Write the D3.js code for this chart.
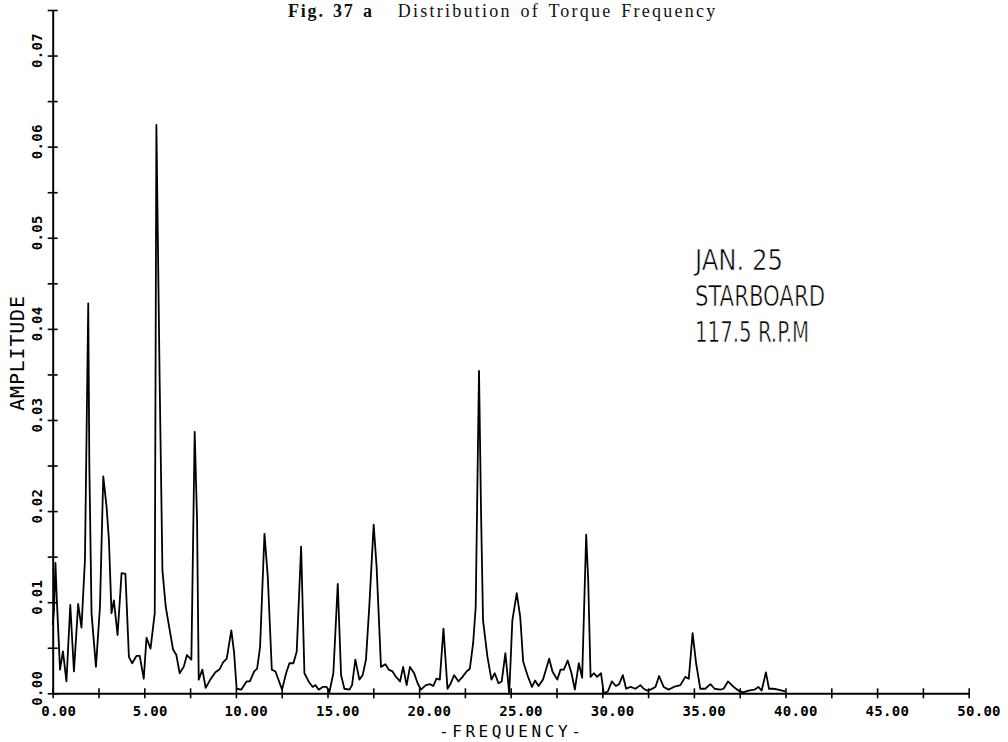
<!DOCTYPE html>
<html>
<head>
<meta charset="utf-8">
<script src="https://cdn.jsdelivr.net/npm/d3@7"></script>
<style>
  html, body { margin: 0; padding: 0; background: #fff; }
  svg { display: block; }
</style>
</head>
<body>
<div id="chart"></div>
<script>
// Torque spectrum (frequency, amplitude)
const frequency = [
  0.00, 0.07, 0.15, 0.22, 0.40, 0.56, 0.75, 0.96, 1.16, 1.39,
  1.57, 1.76, 1.94, 2.00, 2.12, 2.36, 2.58, 2.76, 2.94, 3.07,
  3.21, 3.34, 3.54, 3.76, 3.97, 4.16, 4.34, 4.57, 4.75, 4.97,
  5.12, 5.34, 5.57, 5.66, 5.84, 5.99, 6.17, 6.39, 6.57, 6.75,
  6.93, 7.15, 7.33, 7.57, 7.75, 7.88, 7.97, 8.17, 8.35, 8.60,
  8.88, 9.10, 9.30, 9.50, 9.75, 9.90, 10.04, 10.29, 10.58, 10.76,
  11.00, 11.16, 11.32, 11.56, 11.74, 11.96, 12.16, 12.52, 12.74, 12.92,
  13.14, 13.32, 13.56, 13.74, 13.97, 14.19, 14.34, 14.52, 14.74, 14.95,
  15.10, 15.32, 15.56, 15.74, 15.92, 16.20, 16.34, 16.52, 16.74, 16.92,
  17.10, 17.28, 17.52, 17.68, 17.92, 18.16, 18.34, 18.55, 18.74, 18.96,
  19.13, 19.32, 19.50, 19.73, 19.92, 20.10, 20.37, 20.61, 20.77, 20.95,
  21.13, 21.33, 21.55, 21.73, 21.91, 22.15, 22.37, 22.59, 22.77, 22.95,
  23.09, 23.27, 23.38, 23.49, 23.73, 23.95, 24.13, 24.33, 24.51, 24.71,
  24.92, 25.09, 25.33, 25.52, 25.68, 25.93, 26.16, 26.33, 26.52, 26.76,
  27.10, 27.28, 27.54, 27.72, 27.90, 28.11, 28.32, 28.50, 28.72, 28.90,
  29.12, 29.23, 29.36, 29.54, 29.72, 29.93, 30.08, 30.30, 30.52, 30.74,
  30.92, 31.12, 31.30, 31.54, 31.81, 32.08, 32.26, 32.44, 32.63, 32.90,
  33.10, 33.35, 33.62, 33.90, 34.26, 34.53, 34.72, 34.93, 35.12, 35.35,
  35.62, 35.90, 36.13, 36.44, 36.62, 36.86, 37.17, 37.43, 37.70, 37.98,
  38.30, 38.52, 38.70, 38.93, 39.10, 39.34, 39.60, 39.98
];

const amplitude = [
  0.0075, 0.0092, 0.0143, 0.0105, 0.0026, 0.0046, 0.0013, 0.0097, 0.0024, 0.0098,
  0.0072, 0.0146, 0.0428, 0.0250, 0.0088, 0.0029, 0.0095, 0.0238, 0.0205, 0.0168,
  0.0088, 0.0102, 0.0064, 0.0132, 0.0131, 0.0040, 0.0033, 0.0041, 0.0041, 0.0016,
  0.0061, 0.0049, 0.0088, 0.0624, 0.0340, 0.0135, 0.0095, 0.0069, 0.0048, 0.0042,
  0.0022, 0.0029, 0.0042, 0.0037, 0.0287, 0.0190, 0.0015, 0.0026, 0.0006, 0.0015,
  0.0023, 0.0026, 0.0034, 0.0038, 0.0069, 0.0045, 0.0005, 0.0004, 0.0013, 0.0013,
  0.0024, 0.0027, 0.0051, 0.0175, 0.0128, 0.0026, 0.0024, 0.0004, 0.0022, 0.0033,
  0.0033, 0.0046, 0.0161, 0.0022, 0.0013, 0.0007, 0.0009, 0.0004, 0.0007, 0.0007,
  0.0001, 0.0022, 0.0120, 0.0020, 0.0005, 0.0004, 0.0009, 0.0037, 0.0015, 0.0020,
  0.0037, 0.0095, 0.0185, 0.0139, 0.0029, 0.0032, 0.0026, 0.0024, 0.0018, 0.0013,
  0.0029, 0.0009, 0.0029, 0.0022, 0.0011, 0.0004, 0.0009, 0.0010, 0.0008, 0.0016,
  0.0015, 0.0071, 0.0005, 0.0011, 0.0020, 0.0013, 0.0018, 0.0024, 0.0027, 0.0055,
  0.0095, 0.0354, 0.0200, 0.0080, 0.0040, 0.0015, 0.0022, 0.0011, 0.0013, 0.0044,
  0.0000, 0.0080, 0.0110, 0.0084, 0.0035, 0.0019, 0.0007, 0.0014, 0.0008, 0.0015,
  0.0038, 0.0024, 0.0015, 0.0026, 0.0026, 0.0036, 0.0022, 0.0004, 0.0033, 0.0017,
  0.0174, 0.0124, 0.0018, 0.0022, 0.0018, 0.0022, 0.0000, 0.0002, 0.0013, 0.0008,
  0.0010, 0.0020, 0.0005, 0.0007, 0.0005, 0.0009, 0.0005, 0.0003, 0.0004, 0.0007,
  0.0019, 0.0007, 0.0004, 0.0007, 0.0009, 0.0018, 0.0016, 0.0066, 0.0033, 0.0005,
  0.0005, 0.0010, 0.0005, 0.0004, 0.0005, 0.0013, 0.0007, 0.0003, 0.0001, 0.0003,
  0.0004, 0.0007, 0.0003, 0.0023, 0.0005, 0.0005, 0.0004, 0.0002
];

const xTicks = [0, 2.5, 5, 7.5, 10, 12.5, 15, 17.5, 20, 22.5, 25, 27.5, 30, 32.5, 35, 37.5, 40, 42.5, 45, 47.5, 50];
const xLabels = [0, 5, 10, 15, 20, 25, 30, 35, 40, 45, 50];
const yTicks = [0, 0.005, 0.01, 0.015, 0.02, 0.025, 0.03, 0.035, 0.04, 0.045, 0.05, 0.055, 0.06, 0.065, 0.07, 0.075];
const yLabels = [0, 0.01, 0.02, 0.03, 0.04, 0.05, 0.06, 0.07];

const annotation = ['JAN. 25', 'STARBOARD', '117.5 R.P.M'];

const width = 1008;
const height = 742;
const plotFont = "'DejaVu Sans Mono', monospace";

const svg = d3.select('#chart')
  .append('svg')
  .attr('width', width)
  .attr('height', height);

const x = d3.scaleLinear().domain([0, 50]).range([52.7, 968.7]);
const y = d3.scaleLinear().domain([0, 0.075]).range([693.3, 10]);

// Title
const title = svg.append('text')
  .attr('x', 288)
  .attr('y', 17)
  .style('font-family', "'Liberation Serif', 'Times New Roman', serif")
  .style('font-size', '18px')
  .style('letter-spacing', '1.8px')
  .style('word-spacing', '2px')
  .attr('fill', '#111');
title.append('tspan').style('font-weight', 'bold').text('Fig. 37 a');
title.append('tspan')
  .attr('dx', 24)
  .style('letter-spacing', '2.25px')
  .text('Distribution of Torque Frequency');

// X axis
const xAxis = svg.append('g')
  .attr('transform', `translate(0, ${y(0)})`)
  .call(d3.axisBottom(x)
    .tickValues(xTicks)
    .tickSizeOuter(0)
    .tickFormat(d => xLabels.includes(d) ? d3.format('.2f')(d) : ''));

xAxis.select('.domain').attr('stroke', '#000').attr('stroke-width', 2);
xAxis.selectAll('.tick line')
  .attr('stroke', '#000')
  .attr('stroke-width', 1.6)
  .attr('y1', -5)
  .attr('y2', 5);
xAxis.selectAll('.tick text')
  .attr('x', -12)
  .attr('y', 23)
  .attr('dy', 0)
  .attr('text-anchor', 'start')
  .style('font-family', plotFont)
  .style('font-size', '14px')
  .style('font-weight', 'bold')
  .style('letter-spacing', '0.3px')
  .attr('fill', '#000');

// Y axis
const yAxis = svg.append('g')
  .attr('transform', `translate(${x(0)}, 0)`)
  .call(d3.axisLeft(y)
    .tickValues(yTicks)
    .tickSizeOuter(0)
    .tickFormat(d => yLabels.some(v => Math.abs(v - d) < 1e-9) ? d3.format('.2f')(d) : ''));

yAxis.select('.domain').attr('stroke', '#000').attr('stroke-width', 2);
yAxis.selectAll('.tick line')
  .attr('stroke', '#000')
  .attr('stroke-width', 1.6)
  .attr('x1', -5)
  .attr('x2', 5);
yAxis.selectAll('.tick text')
  .attr('transform', 'rotate(-90)')
  .attr('x', -12)
  .attr('y', -11)
  .attr('dy', 0)
  .attr('text-anchor', 'start')
  .style('font-family', plotFont)
  .style('font-size', '14px')
  .style('font-weight', 'bold')
  .style('letter-spacing', '0.3px')
  .attr('fill', '#000');

// Axis titles
svg.append('text')
  .attr('transform', `translate(${x(25) + 1}, 737)`)
  .attr('text-anchor', 'middle')
  .style('font-family', plotFont)
  .style('font-size', '16px')
  .style('letter-spacing', '3.6px')
  .attr('fill', '#000')
  .text('-FREQUENCY-');

svg.append('text')
  .attr('transform', 'translate(24, 353) rotate(-90)')
  .attr('text-anchor', 'middle')
  .style('font-family', plotFont)
  .style('font-size', '20px')
  .style('letter-spacing', '0.8px')
  .attr('fill', '#000')
  .text('AMPLITUDE');

// Spectrum line
const points = frequency.map((f, i) => [f, amplitude[i]]);
const line = d3.line()
  .x(d => x(d[0]))
  .y(d => y(d[1]));

svg.append('path')
  .datum(points)
  .attr('d', line)
  .attr('fill', 'none')
  .attr('stroke', '#000')
  .attr('stroke-width', 1.8)
  .attr('stroke-linejoin', 'round');

// Run annotation (thin white outline slims the glyph strokes)
const noteWidths = [88, 130, 114];
svg.append('g')
  .selectAll('text')
  .data(annotation)
  .enter()
  .append('text')
  .attr('x', 695)
  .attr('y', (d, i) => 270 + i * 36)
  .attr('textLength', (d, i) => noteWidths[i])
  .attr('lengthAdjust', 'spacingAndGlyphs')
  .style('font-family', "'Liberation Sans Narrow', 'DejaVu Sans Condensed', sans-serif")
  .style('font-size', '29px')
  .attr('fill', '#000')
  .attr('stroke', '#fff')
  .attr('stroke-width', 0.6)
  .text(d => d);
</script>
</body>
</html>
